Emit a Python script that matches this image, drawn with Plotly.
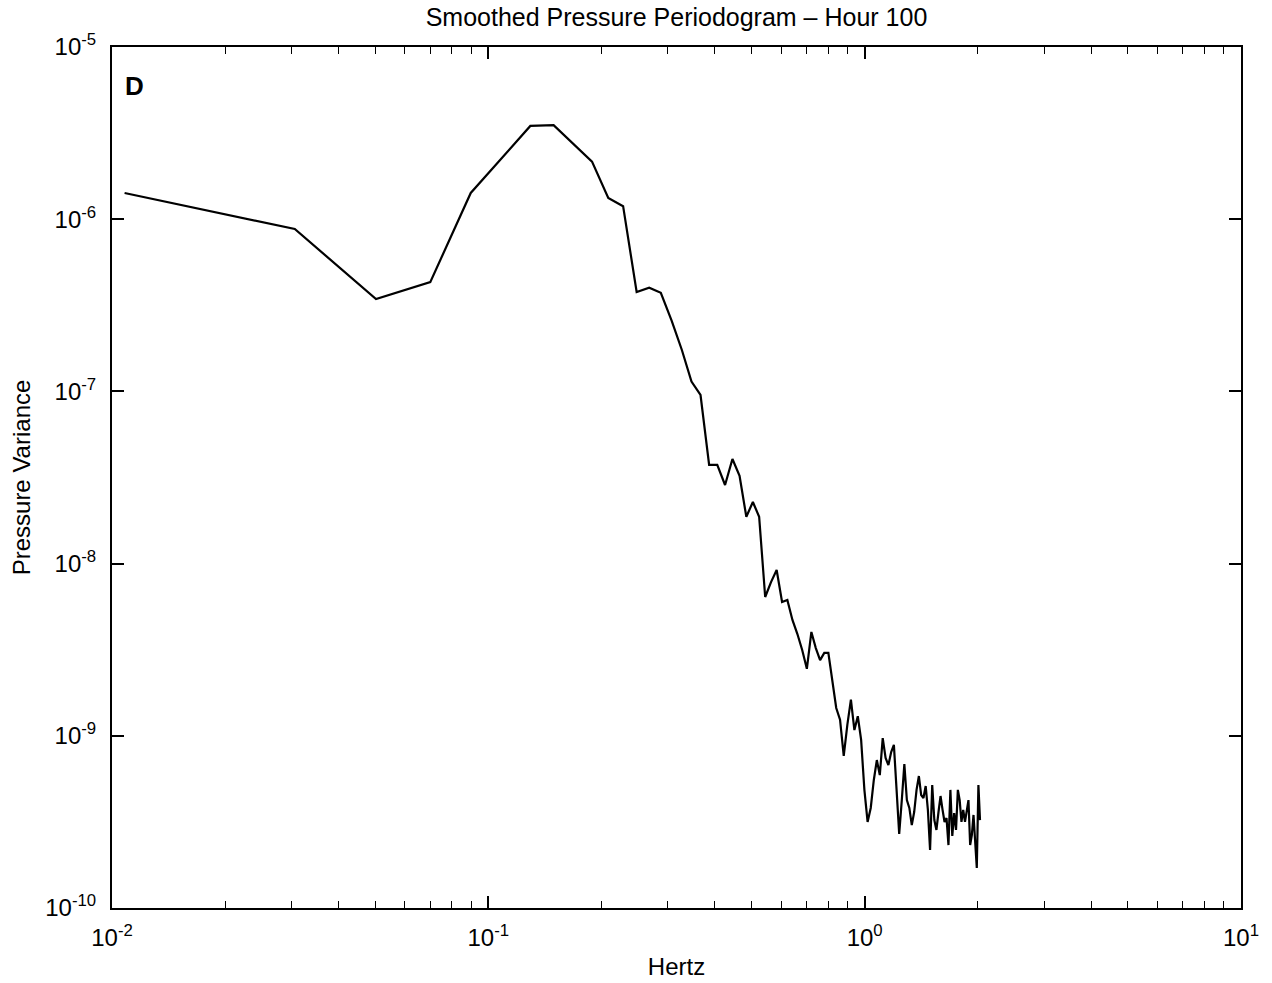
import plotly.graph_objects as go

# Frequencies (Hz)
freq = [0.0108, 0.0306, 0.0503, 0.0701, 0.0898, 0.1096, 0.1293, 0.1491, 0.1688, 0.1886,
        0.2083, 0.2281, 0.2478, 0.2676, 0.2873, 0.3071, 0.3268, 0.3466, 0.3663, 0.3861,
        0.4058, 0.4256, 0.4453, 0.4651, 0.4848, 0.5046, 0.5243, 0.5441, 0.5638, 0.5836,
        0.6033, 0.6231, 0.6428, 0.6626, 0.6823, 0.7021, 0.7218, 0.7416, 0.7613, 0.7811,
        0.8008, 0.8206, 0.8403, 0.8601, 0.8798, 0.8996, 0.9193, 0.9391, 0.9588, 0.9786,
        0.9983, 1.0181, 1.0378, 1.0576, 1.0773, 1.0971, 1.1168, 1.1366, 1.1563, 1.1761,
        1.1958, 1.2156, 1.2353, 1.2551, 1.2748, 1.2946, 1.3143, 1.3341, 1.3538, 1.3736,
        1.3933, 1.4131, 1.4328, 1.4526, 1.4723, 1.4921, 1.5118, 1.5316, 1.5513, 1.5711,
        1.5908, 1.6106, 1.6303, 1.6501, 1.6698, 1.6896, 1.7093, 1.7291, 1.7488, 1.7686,
        1.7883, 1.8081, 1.8278, 1.8476, 1.8673, 1.8871, 1.9068, 1.9266, 1.9463, 1.9661,
        1.9858, 2.0056, 2.0253]

# Smoothed pressure variance
variance = [1.42e-6, 8.77e-7, 3.44e-7, 4.31e-7, 1.42e-6, 2.33e-6, 3.48e-6, 3.52e-6, 2.70e-6, 2.16e-6,
            1.33e-6, 1.19e-6, 3.78e-7, 4.00e-7, 3.74e-7, 2.57e-7, 1.74e-7, 1.14e-7, 9.53e-8, 3.74e-8,
            3.74e-8, 2.86e-8, 4.05e-8, 3.23e-8, 1.87e-8, 2.28e-8, 1.87e-8, 6.40e-9, 7.81e-9, 9.18e-9,
            5.98e-9, 6.15e-9, 4.71e-9, 3.90e-9, 3.15e-9, 2.45e-9, 4.01e-9, 3.23e-9, 2.75e-9, 3.03e-9,
            3.03e-9, 2.08e-9, 1.45e-9, 1.24e-9, 7.64e-10, 1.16e-9, 1.62e-9, 1.08e-9, 1.30e-9, 9.46e-10,
            4.85e-10, 3.16e-10, 3.81e-10, 5.54e-10, 7.23e-10, 5.91e-10, 9.70e-10, 7.43e-10, 6.76e-10, 8.05e-10,
            8.85e-10, 4.85e-10, 2.69e-10, 4.23e-10, 6.85e-10, 4.23e-10, 3.81e-10, 3.03e-10, 3.61e-10, 4.85e-10,
            5.84e-10, 4.53e-10, 4.35e-10, 5.11e-10, 3.71e-10, 2.17e-10, 5.18e-10, 3.24e-10, 2.84e-10, 3.61e-10,
            4.47e-10, 3.71e-10, 3.16e-10, 3.33e-10, 2.32e-10, 4.85e-10, 2.62e-10, 3.56e-10, 2.84e-10, 4.85e-10,
            4.23e-10, 3.16e-10, 3.71e-10, 3.16e-10, 3.61e-10, 4.23e-10, 2.32e-10, 2.65e-10, 3.47e-10, 2.48e-10,
            1.71e-10, 5.18e-10, 3.24e-10]

x_tickvals = [0.01, 0.1, 1, 10]
x_ticktext = ["10<sup>-2</sup>", "10<sup>-1</sup>", "10<sup>0</sup>", "10<sup>1</sup>"]
y_tickvals = [1e-10, 1e-9, 1e-8, 1e-7, 1e-6, 1e-5]
y_ticktext = ["10<sup>-10</sup>", "10<sup>-9</sup>", "10<sup>-8</sup>", "10<sup>-7</sup>",
              "10<sup>-6</sup>", "10<sup>-5</sup>"]
x_minor = [2e-2, 3e-2, 4e-2, 5e-2, 6e-2, 7e-2, 8e-2, 9e-2,
           0.2, 0.3, 0.4, 0.5, 0.6, 0.7, 0.8, 0.9,
           2, 3, 4, 5, 6, 7, 8, 9]

FONT = "Liberation Sans, Arial, Helvetica, sans-serif"

fig = go.Figure()
fig.add_trace(go.Scatter(x=freq, y=variance, mode="lines",
                         line=dict(color="black", width=2.2), showlegend=False))

fig.update_xaxes(type="log", range=[-2, 1], tickmode="array", automargin=False,
                 tickvals=x_tickvals, ticktext=x_ticktext,
                 ticks="inside", ticklen=12, tickwidth=1.5, tickcolor="black",
                 minor=dict(ticks="inside", ticklen=7, tickwidth=1, tickcolor="black",
                            tickmode="array", tickvals=x_minor, showgrid=False),
                 showline=True, linecolor="black", linewidth=2, mirror="ticks",
                 showgrid=False, zeroline=False, ticklabelstandoff=7,
                 tickfont=dict(family=FONT, size=24, color="black"),
                 title=dict(text="Hertz", font=dict(family=FONT, size=24, color="black"),
                            standoff=8))
fig.update_yaxes(type="log", range=[-10, -5], tickmode="array", automargin=False,
                 tickvals=y_tickvals, ticktext=y_ticktext,
                 ticks="inside", ticklen=12, tickwidth=1.5, tickcolor="black",
                 showline=True, linecolor="black", linewidth=2, mirror="ticks",
                 showgrid=False, zeroline=False, ticklabelstandoff=9,
                 tickfont=dict(family=FONT, size=24, color="black"),
                 title=dict(text="Pressure Variance", font=dict(family=FONT, size=24, color="black"),
                            standoff=8))

fig.add_annotation(text="<b>D</b>", xref="paper", yref="paper", x=0.0095, y=0.955,
                   xanchor="left", yanchor="middle", showarrow=False,
                   font=dict(family=FONT, size=26, color="black"))

fig.update_layout(
    width=1272, height=983,
    paper_bgcolor="white", plot_bgcolor="white",
    margin=dict(l=112, r=31, t=47, b=75),
    title=dict(text="Smoothed Pressure Periodogram – Hour 100",
               x=0.5, xref="paper", y=0.9825, yanchor="middle",
               font=dict(family=FONT, size=25, color="black")),
)

fig.write_html("out.html")
